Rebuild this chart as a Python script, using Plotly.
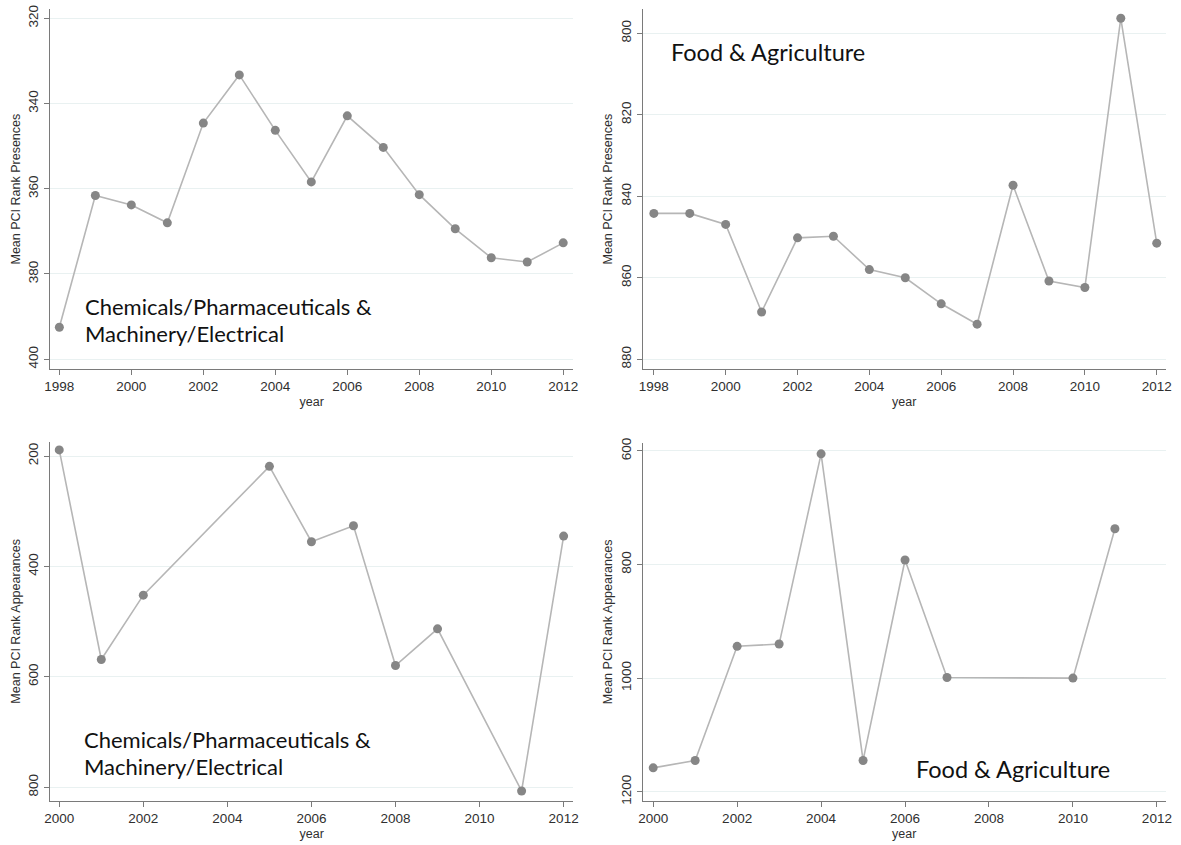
import plotly.graph_objects as go

# ---- data ----
years_pres = [1998, 1999, 2000, 2001, 2002, 2003, 2004, 2005, 2006, 2007, 2008, 2009, 2010, 2011, 2012]
chem_pres = [392.5, 361.6, 363.8, 368.0, 344.6, 333.3, 346.3, 358.4, 342.9, 350.3, 361.4, 369.4, 376.2, 377.2, 372.7]
food_pres = [844.2, 844.2, 846.9, 868.4, 850.2, 849.8, 858.0, 860.0, 866.4, 871.4, 837.3, 860.8, 862.4, 796.3, 851.5]

chem_app_years = [2000, 2001, 2002, 2005, 2006, 2007, 2008, 2009, 2011, 2012]
chem_app = [189, 568.6, 452, 218.7, 355.3, 326.3, 579.5, 513, 806.6, 345]

food_app_years = [2000, 2001, 2002, 2003, 2004, 2005, 2006, 2007, 2010, 2011]
food_app = [1158, 1145, 944, 940, 605, 1145, 792, 999, 1000, 737]

ticks_pres_x = [1998, 2000, 2002, 2004, 2006, 2008, 2010, 2012]
ticks_app_x = [2000, 2002, 2004, 2006, 2008, 2010, 2012]
ticks_chem_pres_y = [320, 340, 360, 380, 400]
ticks_food_pres_y = [800, 820, 840, 860, 880]
ticks_chem_app_y = [200, 400, 600, 800]
ticks_food_app_y = [600, 800, 1000, 1200]

label_chem_1 = "Chemicals/Pharmaceuticals &"
label_chem_2 = "Machinery/Electrical"
label_food = "Food & Agriculture"

W, H = 1181, 845
LINE = "#b6b6b6"
MARK = "#868686"
AX = "#7a7a7a"
GRID = "#e9f1f1"
TXT = "#2f2f2f"
TICKFONT = dict(family="Liberation Sans, Arial", size=13.5, color=TXT)
TITLEFONT = dict(family="Liberation Sans, Arial", size=12.5, color=TXT)

fig = go.Figure()

panels = [
    dict(x=years_pres, y=chem_pres, xa="x", ya="y"),
    dict(x=years_pres, y=food_pres, xa="x2", ya="y2"),
    dict(x=chem_app_years, y=chem_app, xa="x3", ya="y3"),
    dict(x=food_app_years, y=food_app, xa="x4", ya="y4"),
]
for p in panels:
    fig.add_trace(go.Scatter(
        x=p["x"], y=p["y"], xaxis=p["xa"], yaxis=p["ya"],
        mode="lines+markers",
        line=dict(color=LINE, width=1.6),
        marker=dict(color=MARK, size=9, line=dict(width=0)),
        showlegend=False, hoverinfo="skip",
    ))

def xaxis(domain, rng, ticks, anchor):
    return dict(
        domain=domain, range=rng, anchor=anchor,
        tickmode="array", tickvals=ticks, ticktext=[str(t) for t in ticks],
        showline=True, linecolor=AX, linewidth=1.3,
        ticks="outside", ticklen=5, tickcolor=AX, tickwidth=1.2,
        showgrid=False, zeroline=False, mirror=False,
        tickfont=TICKFONT,
        title=dict(text="year", font=TITLEFONT, standoff=3),
        automargin=False,
    )

def yaxis(domain, rng, ticks, anchor, title):
    return dict(
        domain=domain, range=rng, anchor=anchor,
        tickmode="array", tickvals=ticks, ticktext=[str(t) for t in ticks],
        showline=True, linecolor=AX, linewidth=1.3,
        ticks="outside", ticklen=5, tickcolor=AX, tickwidth=1.2,
        showgrid=True, gridcolor=GRID, gridwidth=1,
        zeroline=False, mirror=False, tickangle=-90,
        tickfont=TICKFONT,
        title=dict(text=title, font=TITLEFONT, standoff=3),
        automargin=False,
    )

xd_left = [50 / W, 573.3 / W]
xd_right = [642.7 / W, 1165.7 / W]
yd_top = [1 - 369 / H, 1 - 9.3 / H]
yd_bot3 = [1 - 801 / H, 1 - 441.7 / H]
yd_bot4 = [1 - 801 / H, 1 - 442.7 / H]

fig.update_layout(
    width=W, height=H,
    margin=dict(l=0, r=0, t=0, b=0),
    paper_bgcolor="white", plot_bgcolor="white",
    template="none",
    xaxis=xaxis(xd_left, [1997.74, 2012.28], ticks_pres_x, "y"),
    yaxis=yaxis(yd_top, [402.3, 317.9], ticks_chem_pres_y, "x", "Mean PCI Rank Presences"),
    xaxis2=xaxis(xd_right, [1997.69, 2012.25], ticks_pres_x, "y2"),
    yaxis2=yaxis(yd_top, [882.4, 794.1], ticks_food_pres_y, "x2", "Mean PCI Rank Presences"),
    xaxis3=xaxis(xd_left, [1999.78, 2012.23], ticks_app_x, "y3"),
    yaxis3=yaxis(yd_bot3, [824.8, 174.1], ticks_chem_app_y, "x3", "Mean PCI Rank Appearances"),
    xaxis4=xaxis(xd_right, [1999.75, 2012.21], ticks_app_x, "y4"),
    yaxis4=yaxis(yd_bot4, [1216.4, 585.4], ticks_food_app_y, "x4", "Mean PCI Rank Appearances"),
)

ANN_FONT = dict(family="Lato, Noto Sans", size=22, color="#111111")
ANN_FONT_FOOD = dict(family="Lato, Noto Sans", size=23.5, color="#111111")
anns = [
    (84 / W, 306.5, label_chem_1, ANN_FONT),
    (84 / W, 333.5, label_chem_2, ANN_FONT),
    (670 / W, 52, label_food, ANN_FONT_FOOD),
    (82.5 / W, 739, label_chem_1, ANN_FONT),
    (82.5 / W, 766, label_chem_2, ANN_FONT),
    (915 / W, 769, label_food, ANN_FONT_FOOD),
]
for ax_, ay_, t, f in anns:
    fig.add_annotation(
        x=ax_, y=1 - ay_ / H, xref="paper", yref="paper", text=t, showarrow=False,
        xanchor="left", yanchor="middle", align="left", font=f, borderpad=0,
    )

fig.write_html("out.html")
